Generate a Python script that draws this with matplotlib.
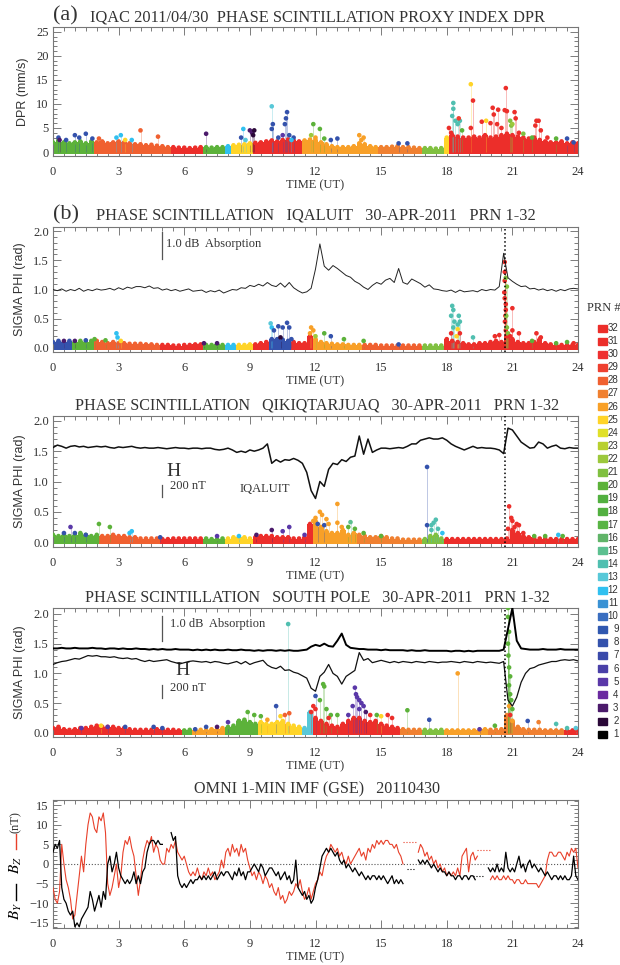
import numpy as np
import matplotlib.pyplot as plt
from matplotlib.lines import Line2D
from matplotlib.patches import Rectangle
from matplotlib.ticker import MultipleLocator, FormatStrFormatter

SERIF = ['Liberation Serif', 'DejaVu Serif']
SANS = ['Liberation Sans', 'DejaVu Sans']
plt.rcParams['font.family'] = SERIF
plt.rcParams['mathtext.fontset'] = 'stix'

# colour of each PRN, 1..32
prn_colors = ['#000000', '#2a0838', '#4b1a6b', '#6a2aa0', '#5a38a8', '#4a40a8',
              '#3a4aaa', '#3452ac', '#3058b0', '#3a6ec0', '#3a92d4', '#30c0f0',
              '#58c8d8', '#50bfb0', '#5cc090', '#60b468', '#58b444', '#52b040',
              '#52b040', '#5cb23a', '#80c040', '#9cc83c', '#b8d030', '#e0e028',
              '#ffd428', '#f8a028', '#f08030', '#f06030', '#ee4030', '#ee3030',
              '#ec2e2a', '#ec2e2a']

t_band = np.linspace(0, 24, 97)   # 15 min
t_line = np.linspace(0, 24, 121)  # 12 min
t_imf = np.linspace(0, 24, 241)   # 6 min
t_event = 20.64

# ---- (a) IQAC DPR ----
a_top = [2.0, 2.5, 2.0, 1.8, 2.0, 2.2, 1.8, 2.2,
         2.0, 2.2, 1.8, 2.0, 2.2, 2.0, 1.8, 1.6,
         1.6, 1.4, 1.5, 1.3, 1.2, 1.0, 1.0, 0.9,
         0.9, 0.8, 0.9, 1.0, 1.0, 0.9, 1.0, 1.0,
         1.2, 1.4, 1.5, 1.6, 1.8, 1.9, 2.0, 2.2,
         2.4, 2.2, 2.5, 2.6, 2.4, 2.2, 2.4, 2.6,
         2.5, 2.0, 1.6, 1.2, 1.0, 1.0, 1.0, 1.2,
         1.8, 1.6, 1.2, 1.0, 1.0, 1.0, 1.1, 1.2,
         1.0, 1.0, 0.9, 0.8, 0.8, 0.8, 0.7, 0.8,
         3.0, 3.5, 3.2, 3.0, 3.0, 3.2, 3.0, 3.5,
         3.0, 3.2, 3.5, 3.8, 3.5, 3.2, 3.0, 2.8,
         3.0, 2.5, 2.2, 2.0, 2.0, 2.2, 1.8, 2.0,
         1.8]
a_seg_start = [0, 2.0, 5.5, 6.8, 8.0, 8.2, 9.2, 11.4, 12.2, 14.8, 17.0, 17.8, 18.1]
a_seg_end = [2.0, 5.5, 6.8, 8.0, 8.2, 9.2, 11.4, 12.2, 14.8, 17.0, 17.8, 18.1, 24.1]
a_seg_prn = [20, 28, 31, 20, 12, 25, 31, 26, 26, 27, 21, 25, 31]
a_pk_t = [0.25, 0.3, 1.0, 1.5, 1.2, 0.6, 1.8, 2.1, 3.1, 3.3, 4.0, 4.8, 2.9, 3.6,
          7.0, 8.7, 8.6, 9.0, 9.1, 9.2, 9.15, 8.8,
          10.0, 10.05, 10.0, 10.3, 10.5, 10.7, 10.65, 10.6, 10.8, 11.0, 10.9,
          11.9, 12.2, 11.8, 12.0, 12.7, 13.0, 12.4, 14.0, 14.2, 14.1, 15.8, 16.2,
          18.3, 18.3, 18.25, 18.4, 18.5, 18.6, 18.55, 18.7, 18.1, 18.2,
          19.1, 19.2, 19.1, 19.6, 19.8, 20.0, 20.1, 20.15, 20.3, 20.35, 20.5,
          20.7, 20.65, 20.75, 20.9, 20.95, 21.0, 21.1, 21.15, 21.3, 21.5, 21.9,
          22.1, 22.2, 22.05, 22.3, 22.6, 23.0, 23.5, 23.8]
a_pk_v = [3.0, 2.5, 3.5, 3.8, 3.0, 2.5, 2.8, 2.8, 3.5, 2.5, 4.5, 3.2, 3.0, 2.5,
          3.8, 4.8, 3.0, 4.5, 4.0, 4.5, 3.5, 2.5,
          9.5, 5.8, 4.8, 3.0, 3.5, 8.3, 7.0, 5.8, 3.5, 3.0, 2.5,
          5.8, 4.8, 3.5, 3.0, 2.5, 2.8, 2.8, 3.5, 3.0, 2.5, 1.8, 1.8,
          10.2, 9.0, 7.5, 6.5, 5.8, 6.5, 7.0, 4.5, 5.0, 4.0,
          14.1, 10.7, 5.0, 6.3, 6.5, 6.0, 9.2, 7.8, 5.8, 8.8, 5.0,
          13.3, 8.7, 8.5, 6.5, 5.5, 5.8, 8.3, 7.0, 4.0, 3.8, 3.0,
          6.5, 6.5, 5.5, 4.5, 3.0, 2.8, 2.8, 2.0]
a_pk_prn = [8, 3, 8, 8, 8, 8, 8, 28, 12, 25, 28, 28, 12, 12,
            3, 12, 8, 3, 3, 2, 2, 13,
            13, 8, 8, 8, 5, 8, 8, 8, 8, 8, 12,
            20, 20, 22, 26, 8, 8, 20, 26, 26, 26, 8, 8,
            14, 14, 14, 14, 14, 14, 29, 20, 31, 31,
            25, 31, 31, 31, 25, 31, 31, 31, 31, 31, 31,
            31, 31, 31, 21, 21, 22, 31, 31, 31, 21, 20,
            31, 31, 31, 31, 31, 20, 8, 8]

# ---- (b) Iqaluit ----
b_top = [0.10, 0.12, 0.10, 0.12, 0.10, 0.12, 0.10, 0.12,
         0.12, 0.10, 0.08, 0.10, 0.08, 0.08, 0.07, 0.07,
         0.07, 0.06, 0.06, 0.05, 0.05, 0.05, 0.04, 0.04,
         0.05, 0.05, 0.06, 0.06, 0.05, 0.05, 0.06, 0.05,
         0.05, 0.05, 0.05, 0.05, 0.06, 0.06, 0.08, 0.10,
         0.15, 0.15, 0.14, 0.12, 0.10, 0.08, 0.08, 0.20,
         0.15, 0.10, 0.08, 0.07, 0.06, 0.06, 0.05, 0.05,
         0.05, 0.05, 0.05, 0.05, 0.04, 0.04, 0.04, 0.04,
         0.04, 0.04, 0.04, 0.04, 0.04, 0.04, 0.04, 0.04,
         0.15, 0.12, 0.10, 0.08, 0.06, 0.06, 0.08, 0.08,
         0.10, 0.12, 0.10, 0.20, 0.15, 0.10, 0.08, 0.08,
         0.10, 0.15, 0.08, 0.06, 0.05, 0.05, 0.05, 0.05,
         0.05]
b_seg_start = [0, 0.8, 2.0, 5.0, 7.0, 8.0, 8.4, 9.2, 10.0, 11.0, 11.8, 14.2, 17.0, 18.0]
b_seg_end = [0.8, 2.0, 5.0, 7.0, 8.0, 8.4, 9.2, 10.0, 11.0, 11.8, 14.2, 17.0, 18.0, 24.1]
b_seg_prn = [8, 20, 28, 31, 20, 12, 25, 31, 8, 31, 26, 28, 21, 31]
b_pk_t = [0.5, 1.0, 1.5, 1.9, 2.4, 2.9, 2.95, 3.1, 6.9, 7.5,
          9.95, 10.0, 10.1, 10.3, 10.5, 10.7, 10.8, 10.4, 10.9,
          11.8, 11.9, 11.75, 12.0, 12.4, 12.7, 13.3, 14.2, 15.8,
          18.25, 18.3, 18.2, 18.35, 18.3, 18.5, 18.55, 18.6, 18.5, 18.45, 18.6, 19.2, 18.2,
          20.2, 20.4, 20.65, 20.65, 20.65, 20.63, 20.65, 20.7, 20.7, 20.68, 20.66, 20.7,
          20.7, 20.75, 20.72, 20.75, 20.8, 21.0, 21.0, 21.3, 20.9,
          22.1, 22.3, 21.9, 23.0, 23.5, 23.8]
b_pk_v = [0.12, 0.12, 0.13, 0.15, 0.13, 0.25, 0.18, 0.12, 0.08, 0.08,
          0.42, 0.35, 0.30, 0.37, 0.35, 0.43, 0.35, 0.18, 0.15,
          0.35, 0.30, 0.25, 0.20, 0.25, 0.20, 0.15, 0.12, 0.06,
          0.72, 0.65, 0.55, 0.45, 0.35, 0.40, 0.55, 0.45, 0.32, 0.20, 0.25, 0.18, 0.25,
          0.20, 0.22, 1.47, 1.30, 1.15, 0.95, 0.85, 0.75, 0.65, 0.55, 0.45, 0.30,
          1.20, 1.05, 0.55, 0.35, 0.25, 0.68, 0.30, 0.25, 0.20,
          0.25, 0.18, 0.12, 0.08, 0.10, 0.08]
b_pk_prn = [3, 3, 8, 20, 20, 12, 12, 25, 3, 3,
            13, 12, 8, 8, 8, 8, 8, 2, 8,
            26, 26, 26, 22, 20, 8, 20, 20, 8,
            14, 14, 14, 14, 14, 14, 14, 14, 25, 25, 31, 14, 31,
            31, 31, 31, 31, 31, 31, 31, 31, 31, 31, 31, 31,
            21, 21, 21, 21, 21, 31, 31, 31, 31,
            31, 31, 20, 20, 20, 31]
b_absorp = [1.00, 0.98, 1.01, 0.97, 1.00, 0.98, 1.02, 0.97, 1.00, 0.98,
            1.01, 0.99, 1.00, 1.02, 0.99, 1.03, 1.00, 1.04, 1.02, 1.05,
            1.05, 1.03, 1.06, 1.02, 1.03, 0.99, 1.01, 0.98, 1.00, 0.97,
            0.99, 1.01, 0.97, 0.98, 0.99, 0.95, 0.98, 0.96, 0.99, 0.94,
            0.97, 1.00, 0.99, 1.03, 1.02, 1.07, 1.05, 1.09, 1.06, 1.12,
            1.07, 1.05, 1.11, 1.04, 1.12, 1.03, 0.98, 0.94, 0.96, 1.02,
            1.35, 1.78, 1.40, 1.33, 1.41, 1.36, 1.30, 1.24, 1.21, 1.14,
            1.10, 1.04, 1.00, 1.07, 1.12, 1.09, 1.16, 1.19, 1.12, 1.36,
            1.12, 1.09, 1.18, 1.14, 1.10, 1.04, 1.08, 1.01, 1.00, 0.98,
            0.97, 0.99, 0.95, 0.99, 0.96, 0.97, 0.98, 0.96, 1.00, 0.98,
            1.00, 0.99, 1.05, 1.62, 1.20, 1.14, 1.09, 1.05, 1.06, 1.01,
            1.02, 0.99, 1.01, 0.98, 1.00, 0.97, 1.00, 0.98, 1.01, 1.02,
            1.01]

# ---- (c) Qikiqtarjuaq ----
c_top = [0.12, 0.10, 0.12, 0.10, 0.12, 0.15, 0.12, 0.10,
         0.12, 0.10, 0.10, 0.12, 0.10, 0.10, 0.08, 0.08,
         0.06, 0.06, 0.06, 0.06, 0.05, 0.05, 0.06, 0.06,
         0.06, 0.06, 0.06, 0.06, 0.06, 0.05, 0.05, 0.06,
         0.06, 0.08, 0.08, 0.08, 0.06, 0.08, 0.10, 0.10,
         0.10, 0.08, 0.08, 0.08, 0.06, 0.06, 0.08, 0.30,
         0.35, 0.25, 0.18, 0.15, 0.15, 0.20, 0.12, 0.15,
         0.12, 0.10, 0.08, 0.08, 0.10, 0.08, 0.06, 0.06,
         0.04, 0.04, 0.04, 0.04, 0.05, 0.10, 0.12, 0.06,
         0.05, 0.05, 0.05, 0.05, 0.05, 0.05, 0.05, 0.05,
         0.05, 0.05, 0.05, 0.06, 0.20, 0.15, 0.10, 0.08,
         0.06, 0.06, 0.06, 0.05, 0.05, 0.05, 0.05, 0.05,
         0.05]
c_seg_start = [0, 2.2, 5.0, 7.0, 8.0, 9.2, 11.8, 14.0, 17.0, 18.0]
c_seg_end = [2.2, 5.0, 7.0, 8.0, 9.2, 11.8, 14.0, 17.0, 18.0, 24.1]
c_seg_prn = [20, 28, 31, 20, 25, 31, 26, 27, 21, 31]
c_pk_t = [0.8, 0.5, 1.0, 1.5, 2.1, 2.6, 3.5, 3.6, 4.9, 7.5, 8.5, 9.3, 10.0, 10.5, 10.8, 11.5,
          11.9, 12.0, 12.2, 12.3, 12.1, 12.5, 12.4, 12.6, 13.0, 13.0, 13.2, 13.6, 13.5, 13.8, 14.2, 15.0,
          17.1, 17.1, 17.3, 17.4, 17.5, 17.3, 17.6, 17.8,
          20.85, 20.95, 21.0, 21.2, 21.3, 20.8, 21.1, 21.5, 22.0, 22.5, 23.1, 23.3]
c_pk_v = [0.25, 0.15, 0.15, 0.12, 0.30, 0.25, 0.15, 0.18, 0.08, 0.10, 0.10, 0.12, 0.20, 0.18, 0.25, 0.12,
          0.35, 0.40, 0.50, 0.45, 0.30, 0.38, 0.28, 0.30, 0.63, 0.32, 0.25, 0.33, 0.25, 0.22, 0.15, 0.10,
          1.24, 0.28, 0.28, 0.32, 0.37, 0.20, 0.22, 0.15,
          0.59, 0.40, 0.35, 0.30, 0.28, 0.22, 0.25, 0.15, 0.10, 0.10, 0.12, 0.10]
c_pk_prn = [5, 8, 8, 8, 20, 20, 12, 12, 8, 5, 12, 3, 3, 5, 5, 5,
            26, 26, 26, 26, 8, 26, 8, 26, 26, 26, 26, 15, 20, 20, 20, 20,
            8, 8, 14, 14, 14, 14, 14, 12,
            31, 31, 31, 31, 31, 31, 31, 31, 20, 20, 12, 20]
c_h = [1.56, 1.60, 1.58, 1.55, 1.58, 1.59, 1.57, 1.58, 1.56, 1.57,
       1.58, 1.57, 1.58, 1.56, 1.55, 1.57, 1.56, 1.57, 1.58, 1.56,
       1.55, 1.56, 1.55, 1.55, 1.56, 1.55, 1.54, 1.55, 1.56, 1.55,
       1.55, 1.54, 1.55, 1.55, 1.54, 1.55, 1.55, 1.53, 1.52, 1.53,
       1.55, 1.52, 1.48, 1.50, 1.48, 1.52, 1.50, 1.52, 1.55, 1.62,
       1.30, 1.36, 1.32, 1.36, 1.35, 1.38, 1.35, 1.30, 1.15, 0.85,
       0.72, 1.00, 0.92, 1.20, 1.30, 1.28, 1.36, 1.33, 1.40, 1.42,
       1.75, 1.45, 1.70, 1.48, 1.52, 1.55, 1.55, 1.54, 1.55, 1.56,
       1.55, 1.58, 1.62, 1.62, 1.68, 1.70, 1.72, 1.70, 1.70, 1.72,
       1.68, 1.62, 1.58, 1.55, 1.52, 1.55, 1.58, 1.55, 1.56, 1.55,
       1.55, 1.54, 1.52, 1.46, 1.88, 1.85, 1.75, 1.65, 1.60, 1.55,
       1.56, 1.65, 1.62, 1.55, 1.58, 1.60, 1.55, 1.54, 1.56, 1.55,
       1.55]

# ---- (d) South Pole ----
d_top = [0.08, 0.10, 0.06, 0.05, 0.06, 0.08, 0.08, 0.10,
         0.12, 0.10, 0.10, 0.10, 0.08, 0.08, 0.06, 0.05,
         0.05, 0.05, 0.05, 0.06, 0.06, 0.05, 0.05, 0.04,
         0.04, 0.05, 0.05, 0.05, 0.05, 0.06, 0.06, 0.08,
         0.10, 0.12, 0.20, 0.22, 0.18, 0.15, 0.18, 0.15,
         0.15, 0.18, 0.20, 0.15, 0.12, 0.10, 0.08, 0.35,
         0.25, 0.20, 0.15, 0.12, 0.10, 0.15, 0.20, 0.25,
         0.25, 0.20, 0.18, 0.20, 0.15, 0.12, 0.10, 0.08,
         0.06, 0.05, 0.05, 0.05, 0.05, 0.04, 0.04, 0.05,
         0.04, 0.04, 0.04, 0.04, 0.04, 0.04, 0.05, 0.06,
         0.05, 0.05, 0.06, 0.30, 0.20, 0.10, 0.06, 0.05,
         0.05, 0.05, 0.04, 0.04, 0.04, 0.04, 0.04, 0.04,
         0.04]
d_seg_start = [0, 5.8, 6.5, 8.0, 9.5, 11.5, 11.9, 16.0, 17.0, 18.0, 20.0, 23.5]
d_seg_end = [5.8, 6.5, 8.0, 9.5, 11.5, 11.9, 16.0, 17.0, 18.0, 20.0, 23.5, 24.1]
d_seg_prn = [31, 20, 26, 20, 25, 13, 31, 27, 21, 26, 27, 31]
d_pk_t = [1.3, 2.2, 2.5, 3.3, 4.6, 5.0, 6.5, 7.0, 7.5, 8.0, 8.5, 8.9, 9.2, 9.5, 9.8,
          10.2, 10.4, 10.6, 10.75, 10.8,
          11.8, 12.0, 11.9, 12.0, 12.2, 12.35, 12.4, 12.5, 12.7, 12.6, 13.0,
          13.5, 13.7, 13.8, 13.85, 13.9, 14.0, 14.1, 14.2, 14.0, 14.3, 14.5, 14.8, 15.0,
          15.3, 15.5, 16.2, 17.2, 18.5, 19.5, 20.2,
          20.8, 20.8, 20.85, 20.8, 20.82, 20.85, 20.9, 20.85, 20.9, 20.95, 20.85, 21.0,
          20.9, 21.0, 21.7, 22.2, 23.0, 23.5, 23.9]
d_pk_v = [0.08, 0.12, 0.10, 0.10, 0.10, 0.08, 0.06, 0.10, 0.10, 0.18, 0.20, 0.35, 0.30, 0.28, 0.22,
          0.45, 0.28, 0.30, 1.83, 0.33,
          0.35, 0.62, 0.45, 0.40, 0.55, 0.82, 0.78, 0.40, 0.30, 0.25, 0.30,
          0.30, 0.45, 0.76, 0.65, 0.60, 0.55, 0.50, 0.45, 0.40, 0.35, 0.30, 0.30, 0.28,
          0.30, 0.25, 0.38, 0.22, 1.00, 0.06, 0.12,
          2.10, 1.95, 1.70, 1.50, 1.30, 1.10, 0.95, 0.80, 0.65, 0.55, 0.45, 0.40,
          0.30, 0.20, 0.20, 0.18, 0.15, 0.08, 0.08]
d_pk_prn = [5, 25, 5, 8, 8, 8, 8, 8, 3, 5, 20, 20, 20, 20, 26,
            8, 25, 28, 14, 28,
            31, 8, 31, 31, 20, 20, 20, 20, 20, 31, 20,
            5, 5, 5, 5, 5, 5, 5, 5, 5, 3, 31, 20, 25,
            31, 31, 20, 8, 26, 5, 20,
            20, 20, 20, 20, 20, 20, 20, 20, 20, 20, 26, 20,
            31, 26, 8, 27, 14, 14, 13]
d_absorp = [1.42, 1.42, 1.43, 1.42, 1.42, 1.43, 1.42, 1.42, 1.42, 1.43,
            1.42, 1.42, 1.41, 1.42, 1.42, 1.41, 1.42, 1.41, 1.41, 1.42,
            1.41, 1.41, 1.40, 1.41, 1.40, 1.41, 1.40, 1.40, 1.41, 1.40,
            1.40, 1.40, 1.39, 1.40, 1.39, 1.40, 1.39, 1.40, 1.39, 1.39,
            1.40, 1.39, 1.39, 1.40, 1.39, 1.39, 1.38, 1.39, 1.38, 1.39,
            1.39, 1.38, 1.39, 1.38, 1.39, 1.38, 1.38, 1.39, 1.40, 1.45,
            1.48, 1.46, 1.50, 1.46, 1.45, 1.55, 1.67, 1.48, 1.43, 1.42,
            1.41, 1.41, 1.40, 1.40, 1.40, 1.39, 1.40, 1.39, 1.39, 1.39,
            1.39, 1.38, 1.39, 1.38, 1.38, 1.39, 1.38, 1.38, 1.38, 1.38,
            1.38, 1.37, 1.38, 1.38, 1.37, 1.38, 1.37, 1.38, 1.38, 1.38,
            1.38, 1.38, 1.38, 1.40, 1.75, 2.10, 1.55, 1.42, 1.41, 1.40,
            1.40, 1.40, 1.41, 1.40, 1.40, 1.40, 1.41, 1.40, 1.40, 1.40,
            1.40]
d_h = [1.15, 1.18, 1.20, 1.21, 1.23, 1.25, 1.24, 1.27, 1.30, 1.29,
       1.30, 1.28, 1.28, 1.27, 1.28, 1.26, 1.25, 1.26, 1.24, 1.25,
       1.22, 1.20, 1.22, 1.20, 1.21, 1.22, 1.23, 1.20, 1.18, 1.16,
       1.18, 1.20, 1.21, 1.20, 1.19, 1.20, 1.18, 1.20, 1.19, 1.17,
       1.16, 1.18, 1.20, 1.16, 1.20, 1.15, 1.18, 1.20, 1.22, 1.14,
       1.10, 1.08, 1.12, 1.05, 1.06, 1.02, 1.00, 0.96, 0.92, 0.75,
       0.70, 0.95, 1.02, 1.15, 1.00, 0.95, 0.82, 0.95, 1.00, 1.05,
       1.35, 1.22, 1.25, 1.18, 1.20, 1.22, 1.20, 1.18, 1.20, 1.18,
       1.20, 1.19, 1.18, 1.20, 1.19, 1.18, 1.20, 1.19, 1.18, 1.19,
       1.19, 1.20, 1.19, 1.18, 1.20, 1.19, 1.18, 1.20, 1.19, 1.18,
       1.19, 1.18, 1.17, 1.20, 0.55, 0.45, 0.60, 0.85, 1.00, 1.08,
       1.10, 1.14, 1.16, 1.18, 1.20, 1.20, 1.22, 1.23, 1.22, 1.23,
       1.21]

# ---- (e) OMNI IMF, one row per hour ----
nan = np.nan
imf_bz = [-6, -9, -10, -7, 5, 0, -4, -6, -9, -14,
          -13, -8, -3, 2, -2, 5, 10, 13, 12, 9,
          8, 12, 11, 13, 8, -5, -8, -6, -3, 0,
          -6, -3, 3, 6, 5, 7, 4, 2, -3, -8,
          -4, 1, 4, 6, 5, 7, 3, 5, 4, 1,
          0, 0, 4, 3, 5, 4, 6, 3, 2, 1,
          2, 0, -2, -3, -2, -3, -1, -3, -4, -2,
          -3, -1, -3, -2, -4, -3, -2, 1, -1, 3,
          4, 2, 5, 3, 4, 2, 5, 3, 4, 1,
          -1, -3, -2, -4, -2, -3, -5, -3, -4, -6,
          -5, -7, -8, -6, -9, -8, -10, -9, -7, -8,
          -7, -5, -6, -4, -7, -9, -8, -6, -9, -7,
          -5, -4, -2, -3, 0, 2, 3, 5, 4, 3,
          4, 2, 3, 1, 0, 2, 0, 1, 2, 3,
          4, 2, 3, 1, 4, 3, 5, 4, 6, 5,
          6, 5, 6, 6, 5, 5, 4, 5, 3, 2,
          0, nan, nan, nan, nan, nan, nan, 3, 5, 4,
          2, 3, 1, 2, 0, 1, -1, 0, -2, -1,
          -3, -2, -3, -2, -3, -1, -3, 2, 3, 4,
          -2, 2, 3, 1, 2, nan, nan, nan, nan, nan,
          -4, -3, -4, -3, -4, -4, -3, -4, -3, -4,
          -4, -5, -4, -4, -5, -5, -4, -5, -5, -5,
          -5, -5, -6, -5, -4, -3, 1, 3, 3, 2,
          2, 3, 3, 2, 1, 3, 2, 4, 3, 4,
          -1]
imf_by = [3, 5, 4, 6, -6, -9, -10, -12, -13, -12,
          -16, -15, -16, -14, -13, -12, -11, -7, -9, -12,
          -10, -8, -11, -7, -9, 0, 2, -2, 0, 3,
          -1, -3, -4, -5, -4, -5, -4, -2, -5, -3,
          -5, -2, -1, 3, 5, 6, 6, 5, 6, 5,
          5, nan, nan, nan, 8, 6, 7, -3, -5, -6,
          -5, -6, -5, -4, -5, -4, -4, -3, -4, -3,
          -4, -3, -4, -3, -2, -4, -3, -2, -3, -2,
          -2, -3, -4, -2, -3, -1, -3, -2, -4, -2,
          -2, -1, 0, -1, -2, 0, -1, -3, -2, -1,
          -1, -2, -3, -2, -4, -3, -2, -4, -3, -5,
          -4, 1, -6, -7, -8, -7, -9, -8, -10, -9,
          -6, -4, -1, 2, 3, 4, 3, 4, 3, 2,
          3, 1, 0, 1, -1, 0, -1, -2, -1, -2,
          -3, -2, -3, -4, -3, -4, -3, -3, -4, -3,
          -4, -3, -4, -5, -4, -3, -5, -4, -5, -4,
          -5, nan, nan, nan, nan, nan, nan, 1, 0, 1,
          0, 1, 0, -1, 0, -1, -2, -1, -2, -2,
          -3, -2, -3, -3, -4, -3, -3, -4, -3, -3,
          -4, -3, -3, -4, nan, nan, nan, nan, nan, -1,
          -2, -1, -2, 0, -2, -1, -2, 3, -1, -2,
          -1, -2, 0, 2, -1, 0, -2, 0, 1, -1,
          0, -1, -2, -1, -2, -3, -2, -3, -4, -3,
          -3, -4, -3, -4, -3, -4, -4, -3, 2, -3,
          -4]
bz_dot_t = [16.0, 16.2, 16.4, 16.6, nan, 19.4, 19.6, 19.8, 20.0]
bz_dot_v = [5.5, 5.5, 5.5, 5.5, nan, 3.5, 3.5, 3.5, 3.5]
by_dot_t = [16.2, 16.35, 16.5, nan, 19.2, 19.45, 19.7]
by_dot_v = [-1.3, -1.3, -1.3, nan, -3.0, -3.0, -3.0]

W, H = 620, 965
fig = plt.figure(figsize=(6.2, 9.65), dpi=100)
TXT = '#333333'


def px_axes(top, bottom, left=53, right=578):
    return fig.add_axes([left / W, 1 - bottom / H, (right - left) / W, (bottom - top) / H])


def style(ax, ylim, ymaj, ymin, fmt=None):
    ax.set_xlim(0, 24)
    ax.set_ylim(*ylim)
    ax.xaxis.set_major_locator(MultipleLocator(3))
    ax.xaxis.set_minor_locator(MultipleLocator(0.5))
    ax.yaxis.set_major_locator(MultipleLocator(ymaj))
    ax.yaxis.set_minor_locator(MultipleLocator(ymin))
    if fmt:
        ax.yaxis.set_major_formatter(FormatStrFormatter(fmt))
    ax.tick_params(which='both', direction='in', top=True, right=True,
                   color='#666666', labelcolor=TXT, labelsize=9, width=0.6)
    ax.tick_params(which='major', length=6)
    ax.tick_params(which='minor', length=3)
    ax.tick_params(axis='x', pad=7)
    ax.tick_params(axis='y', pad=3)
    for sp in ax.spines.values():
        sp.set_color('#777777')
        sp.set_linewidth(0.8)
    ax.set_xlabel('TIME (UT)', fontsize=9, color=TXT, labelpad=1)


def draw_scint(ax, top, floor, seg, pk):
    cols = []
    for x in t_band:
        c = seg[2][-1]
        for s, e, p in zip(*seg):
            if s <= x < e:
                c = p
                break
        cols.append(prn_colors[c - 1])
    ax.bar(t_band, np.array(top) - floor, width=0.25, bottom=floor, color=cols,
           linewidth=0, zorder=2)
    ax.scatter(t_band, top, s=11, c=cols, linewidths=0, zorder=3)
    pt, pv, pp = pk
    pc = [prn_colors[p - 1] for p in pp]
    ax.vlines(pt, 0, pv, colors=pc, linewidth=0.5, alpha=0.45, zorder=2)
    ax.scatter(pt, pv, s=11, c=pc, linewidths=0, zorder=4)


def ylab(ax, text):
    ax.set_ylabel(text, fontsize=9, family=SANS, color=TXT, labelpad=5)


def title(y, text, x=None, tag=None):
    if tag:
        fig.text(53 / W, 1 - y / H, tag, fontsize=16, va='center', color=TXT)
        fig.text(x / W, 1 - (y + 1) / H, text, fontsize=11.8, va='center', color=TXT)
    else:
        fig.text(317 / W, 1 - y / H, text, fontsize=11.6, ha='center', va='center', color=TXT)


# (a)
ax = px_axes(27, 156)
draw_scint(ax, a_top, -0.5, (a_seg_start, a_seg_end, a_seg_prn), (a_pk_t, a_pk_v, a_pk_prn))
style(ax, (-0.83, 26.0), 5, 1)
ylab(ax, 'DPR (mm/s)')
title(16, 'IQAC 2011/04/30  PHASE SCINTILLATION PROXY INDEX DPR', x=90, tag='(a)')

# (b)
ax = px_axes(227, 352)
draw_scint(ax, b_top, -0.03, (b_seg_start, b_seg_end, b_seg_prn), (b_pk_t, b_pk_v, b_pk_prn))
ax.plot(t_line, b_absorp, color='#222222', lw=0.7, zorder=5)
ax.axvline(t_event, color='k', ls=':', lw=1.1, zorder=6)
ax.plot([4.98, 4.98], [1.53, 1.98], color='#555555', lw=0.9)
ax.text(5.15, 1.78, '1.0 dB  Absorption', fontsize=9, va='center', color=TXT)
style(ax, (-0.07, 2.07), 0.5, 0.1, '%.1f')
ylab(ax, 'SIGMA PHI (rad)')
title(215, 'PHASE SCINTILLATION   IQALUIT   30-APR-2011   PRN 1-32', x=96, tag='(b)')

# (c)
ax = px_axes(416, 547)
draw_scint(ax, c_top, -0.03, (c_seg_start, c_seg_end, c_seg_prn), (c_pk_t, c_pk_v, c_pk_prn))
ax.plot(t_line, c_h, color='#111111', lw=1.1, zorder=5)
ax.axvline(t_event, color='k', ls=':', lw=1.1, zorder=6)
ax.text(5.2, 1.17, 'H', fontsize=14, va='center', color=TXT)
ax.plot([5.0, 5.0], [0.74, 0.95], color='#555555', lw=0.9)
ax.text(5.35, 0.92, '200 nT', fontsize=9, va='center', color=TXT)
ax.text(8.55, 0.88, 'IQALUIT', fontsize=9, va='center', color=TXT)
style(ax, (-0.08, 2.08), 0.5, 0.1, '%.1f')
ylab(ax, 'SIGMA PHI (rad)')
title(406, 'PHASE SCINTILLATION   QIKIQTARJUAQ   30-APR-2011   PRN 1-32')

# (d)
ax = px_axes(608, 737)
draw_scint(ax, d_top, -0.03, (d_seg_start, d_seg_end, d_seg_prn), (d_pk_t, d_pk_v, d_pk_prn))
ax.plot(t_line, d_absorp, color='#000000', lw=1.4, zorder=5)
ax.plot(t_line, d_h, color='#111111', lw=0.9, zorder=5)
ax.axvline(t_event, color='k', ls=':', lw=1.1, zorder=6)
ax.plot([5.0, 5.0], [1.54, 1.97], color='#555555', lw=0.9)
ax.text(5.35, 1.83, '1.0 dB  Absorption', fontsize=9, va='center', color=TXT)
ax.text(5.6, 1.05, 'H', fontsize=14, va='center', color=TXT)
ax.plot([5.0, 5.0], [0.59, 0.80], color='#555555', lw=0.9)
ax.text(5.35, 0.75, '200 nT', fontsize=9, va='center', color=TXT)
style(ax, (-0.07, 2.1), 0.5, 0.1, '%.1f')
ylab(ax, 'SIGMA PHI (rad)')
title(598, 'PHASE SCINTILLATION   SOUTH POLE   30-APR-2011   PRN 1-32')

# (e)
ax = px_axes(800, 928)
ax.axhline(0, color='#555555', ls=':', lw=0.8, zorder=1)
ax.plot(t_imf, imf_bz, color='#e8402a', lw=0.8, zorder=3)
ax.plot(t_imf, imf_by, color='#000000', lw=0.9, zorder=4)
ax.plot(bz_dot_t, bz_dot_v, color='#e8402a', ls=':', lw=0.8)
ax.plot(by_dot_t, by_dot_v, color='#000000', ls=':', lw=0.8)
style(ax, (-16.3, 16.3), 5, 1)
title(789, 'OMNI 1-MIN IMF (GSE)   20110430')
# composite y label: B_Y (black line)  B_Z (red line)  (nT)
fig.text(16 / W, 1 - 911 / H, '$B_Y$', rotation=90, ha='center', va='center', fontsize=11)
fig.add_artist(Line2D([16 / W, 16 / W], [1 - 900 / H, 1 - 884 / H], color='k', lw=1,
                      transform=fig.transFigure))
fig.text(16 / W, 1 - 865 / H, '$B_Z$', rotation=90, ha='center', va='center', fontsize=11)
fig.add_artist(Line2D([16 / W, 16 / W], [1 - 849 / H, 1 - 834 / H], color='#e8402a', lw=1,
                      transform=fig.transFigure))
fig.text(16 / W, 1 - 822 / H, '(nT)', rotation=90, ha='center', va='center', fontsize=9,
         color=TXT)

# PRN legend
fig.text(587 / W, 1 - 308 / H, 'PRN #', fontsize=9, va='center', color=TXT)
for i, prn in enumerate(range(32, 0, -1)):
    yc = 328 + i * 13.1
    fig.add_artist(Rectangle((598 / W, 1 - (yc + 3.5) / H), 9 / W, 7 / H,
                             transform=fig.transFigure, color=prn_colors[prn - 1]))
    fig.text(618.5 / W, 1 - yc / H, str(prn), fontsize=7, ha='right', va='center',
             family=SANS, color=TXT)

fig.savefig('out.png', dpi=100)
